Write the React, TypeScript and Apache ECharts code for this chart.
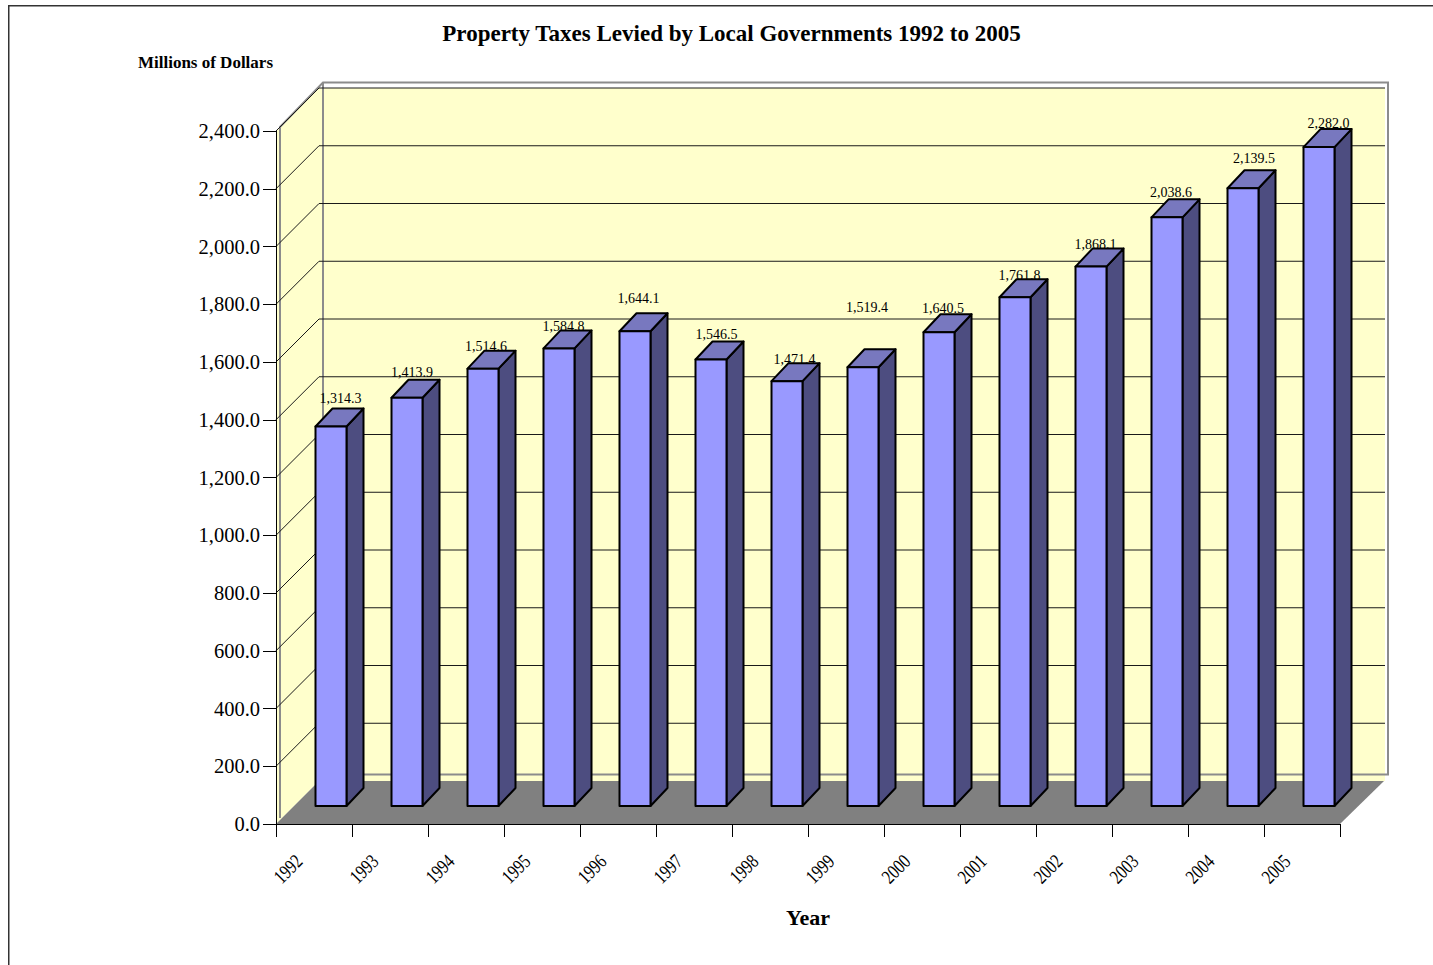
import React, { useEffect, useRef } from "react";
import * as echarts from "echarts";

const years = ["1992","1993","1994","1995","1996","1997","1998","1999","2000","2001","2002","2003","2004","2005"];
const taxes = [1314.3,1413.9,1514.6,1584.8,1644.1,1546.5,1471.4,1519.4,1640.5,1761.8,1868.1,2038.6,2139.5,2282.0];
const yTicks = [0,200,400,600,800,1000,1200,1400,1600,1800,2000,2200,2400];
// hand-placed data-label nudges, as in the reference
const labelShiftX = [10,5.5,3.5,5,4,6,8,4.5,4.5,5,5,4.5,11.5,10];
const labelLift = [9.5,7.7,3.7,3.4,15,6.5,4,42,6,4,3.6,7,12,6];

const SERIF = "'Liberation Serif', 'Times New Roman', serif";
const DEPTH_X = 43;
const DEPTH_Y = 43;
const fmt = (v: number) => v.toLocaleString("en-US", { minimumFractionDigits: 1, maximumFractionDigits: 1 });

function renderWalls(params: any, api: any) {
  const cs = params.coordSys;
  const L = cs.x, R = cs.x + cs.width, T = cs.y, B = cs.y + cs.height;
  const yellow = "#FFFFCC";
  const gray = "#8C8C8C";
  const children: any[] = [
    { type: "polygon", shape: { points: [[L,T],[L+DEPTH_X,T-DEPTH_Y],[L+DEPTH_X,B-DEPTH_Y],[L,B]] }, style: { fill: yellow } },
    { type: "polygon", shape: { points: [[L+DEPTH_X,T-DEPTH_Y],[R+45,T-DEPTH_Y],[R+45,B-DEPTH_Y],[L+DEPTH_X,B-DEPTH_Y]] }, style: { fill: yellow } },
    { type: "polyline", shape: { points: [[L+4,B-6],[L+4,T-4],[L+47,T-48.5],[R+48,T-48.5],[R+48,B-49.5],[L+47,B-49.5]] }, style: { fill: "none", stroke: gray, lineWidth: 2 } },
    { type: "polyline", shape: { points: [[L+47,T-48.5],[L+47,B-49.5]] }, style: { fill: "none", stroke: gray, lineWidth: 2 } },
  ];
  yTicks.slice(1).forEach((v) => {
    const y = api.coord([0, v])[1];
    children.push({
      type: "polyline",
      shape: { points: [[L,y],[L+DEPTH_X,y-DEPTH_Y],[R+45,y-DEPTH_Y]] },
      style: { fill: "none", stroke: "#1a1a1a", lineWidth: 1 },
    });
  });
  children.push({
    type: "polygon",
    shape: { points: [[L,B],[R,B],[R+44,B-DEPTH_Y],[L+DEPTH_X,B-DEPTH_Y]] },
    style: { fill: "#808080" },
  });
  // Year labels: squeezed along their baseline, which the axis label has no option for
  years.forEach((year, i) => {
    children.push({
      type: "text",
      x: api.coord([i, 0])[0] - 26,
      y: B + 45,
      rotation: Math.PI / 4,
      scaleX: 0.78,
      style: { text: year, fill: "#000", fontFamily: SERIF, fontSize: 20, align: "center", verticalAlign: "middle" },
    });
  });
  return { type: "group", children };
}

function renderBar(params: any, api: any) {
  const i = api.value(0);
  const v = api.value(1);
  const cx = api.coord([i, 0])[0];
  const base = api.coord([i, 0])[1] - 18;
  const h = api.coord([i, 0])[1] - api.coord([i, v])[1];
  const x0 = cx + 1.5, x1 = cx + 32.5, top = base - h;
  const dx = 17, dy = 18;
  const stroke = { stroke: "#000", lineWidth: 2, lineJoin: "round" };
  return {
    type: "group",
    children: [
      { type: "polygon", shape: { points: [[x1,base],[x1+dx,base-dy],[x1+dx,top-dy],[x1,top]] }, style: { fill: "#4D4D80", ...stroke } },
      { type: "polygon", shape: { points: [[x0,top],[x0+dx,top-dy],[x1+dx,top-dy],[x1,top]] }, style: { fill: "#7878BF", ...stroke } },
      { type: "rect", shape: { x: x0, y: top, width: x1 - x0, height: h }, style: { fill: "#9999FF", ...stroke } },
      {
        type: "text",
        x: cx + 16.5 + labelShiftX[i],
        y: top - dy - labelLift[i],
        style: { text: fmt(v), fill: "#000", fontFamily: SERIF, fontSize: 14, align: "center", verticalAlign: "middle" },
      },
    ],
  };
}

export default function App() {
  const ref = useRef<HTMLDivElement>(null);
  useEffect(() => {
    const chart = echarts.init(ref.current!, undefined, { renderer: "svg" });
    chart.setOption({
      animation: false,
      backgroundColor: "#fff",
      title: {
        text: "Property Taxes Levied by Local Governments 1992 to 2005",
        left: 726.5,
        top: 17,
        textAlign: "center",
        textStyle: { fontFamily: SERIF, fontSize: 23, fontWeight: "bold", color: "#000" },
      },
      grid: { left: 276, top: 131, width: 1064, height: 693 },
      graphic: [
        { type: "polyline", shape: { points: [[8.75,965],[8.75,5.75],[1433,5.75]] }, style: { fill: "none", stroke: "#333", lineWidth: 1.5 }, silent: true },
      ],
      xAxis: {
        type: "category",
        data: years,
        z: 5,
        name: "Year",
        nameLocation: "middle",
        nameGap: 93,
        nameTextStyle: { fontFamily: SERIF, fontSize: 22, fontWeight: "bold", color: "#000", verticalAlign: "middle" },
        axisLine: { lineStyle: { color: "#000", width: 1 } },
        axisTick: { show: true, length: 13, lineStyle: { color: "#000" } },
        axisLabel: { show: false, interval: 0 },
      },
      yAxis: {
        type: "value",
        min: 0,
        max: 2400,
        interval: 200,
        z: 5,
        name: "Millions of Dollars",
        nameLocation: "end",
        nameGap: 69,
        nameTextStyle: { fontFamily: SERIF, fontSize: 17, fontWeight: "bold", color: "#000", align: "right", verticalAlign: "middle", padding: [0, 3, 0, 0] },
        splitLine: { show: false },
        axisLine: { show: true, lineStyle: { color: "#000", width: 1 } },
        axisTick: { show: true, length: 13, lineStyle: { color: "#000" } },
        axisLabel: { margin: 16, padding: [4, 0, 0, 0], fontFamily: SERIF, fontSize: 20.5, color: "#000", formatter: (v: number) => fmt(v) },
      },
      series: [
        { type: "custom", name: "walls", z: 1, silent: true, clip: false, data: [[0, 0]], renderItem: renderWalls },
        {
          type: "custom",
          name: "Property taxes",
          z: 2,
          clip: false,
          silent: true,
          encode: { x: 0, y: 1 },
          data: taxes.map((v, i) => [i, v]),
          renderItem: renderBar,
        },
      ],
    });
    return () => chart.dispose();
  }, []);
  return <div ref={ref} style={{ position: "fixed", left: 0, top: 0, width: 1433, height: 965 }} />;
}
